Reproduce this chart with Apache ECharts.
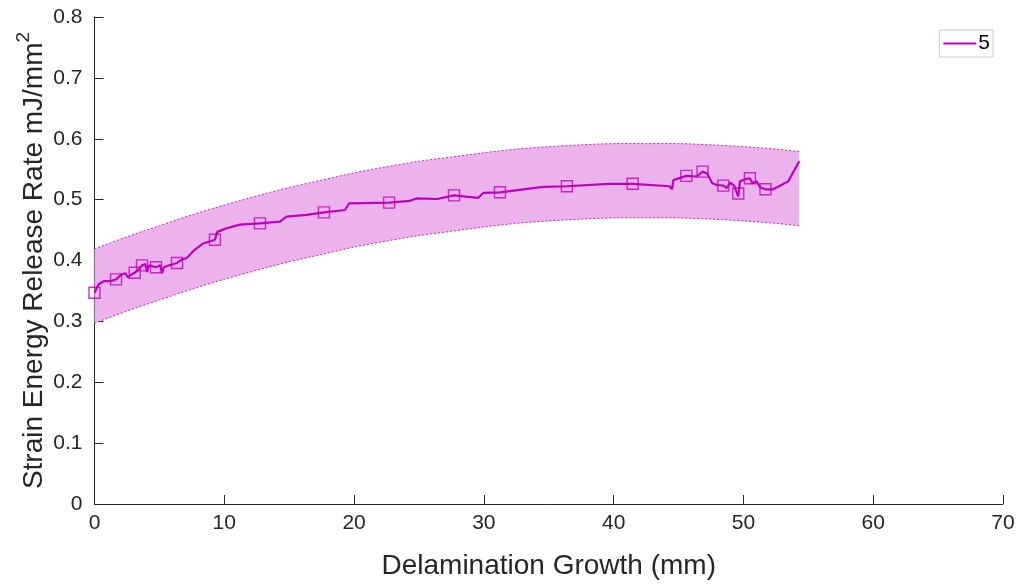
<!DOCTYPE html>
<html>
<head>
<meta charset="utf-8">
<script src="https://cdn.jsdelivr.net/npm/echarts@6/dist/echarts.min.js"></script>
<style>
  html, body { margin: 0; padding: 0; background: #fff; }
  #chart { width: 1028px; height: 585px; }
</style>
</head>
<body>
<div id="chart"></div>
<script>
  // measured curve (mm, mJ/mm^2)
  var growth = [0, 0.32, 0.71, 1.22, 1.66, 2.07, 2.38, 2.58, 2.84, 3.1, 3.4, 3.66, 3.92, 4.05, 4.2,
    4.74, 5.05, 5.2, 5.35, 5.6, 6.36, 6.75, 7.1, 7.74, 8.38, 9.0, 9.28, 9.46, 10.18, 11.2,
    12.75, 14.29, 14.8, 16.35, 17.68, 19.3, 19.63, 22.7, 24.3, 24.8, 26.4, 27.7, 29.57, 29.95,
    31.24, 34.58, 36.4, 39.6, 41.47, 44.3, 44.5, 44.6, 45.6, 46.4, 46.85, 47.2, 47.6, 47.97,
    48.45, 48.7, 49.0, 49.3, 49.6, 49.73, 50.2, 50.5, 50.7, 51.0, 51.3, 51.7, 52.3, 53.45, 54.3]
  var gValues = [0.347, 0.361, 0.366, 0.366, 0.369, 0.377, 0.379, 0.372, 0.377, 0.380, 0.385, 0.392, 0.394, 0.381, 0.392,
    0.389, 0.392, 0.379, 0.389, 0.391, 0.396, 0.402, 0.404, 0.418, 0.428, 0.432, 0.434, 0.447, 0.453, 0.459,
    0.461, 0.464, 0.472, 0.475, 0.479, 0.483, 0.494, 0.495, 0.498, 0.502, 0.501, 0.507, 0.503, 0.511,
    0.512, 0.521, 0.522, 0.526, 0.526, 0.522, 0.517, 0.532, 0.539, 0.538, 0.546, 0.543, 0.527, 0.524,
    0.523, 0.519, 0.528, 0.522, 0.505, 0.530, 0.534, 0.535, 0.527, 0.530, 0.520, 0.517, 0.517, 0.530, 0.563]

  // square markers
  var markX = [0, 1.66, 3.1, 3.66, 4.74, 6.36, 9.28, 12.75, 17.68, 22.7, 27.7, 31.24, 36.4, 41.47, 45.6, 46.85, 48.45, 49.6, 50.5, 51.7]
  var markY = [0.347, 0.369, 0.380, 0.392, 0.389, 0.396, 0.434, 0.461, 0.479, 0.495, 0.507, 0.512, 0.522, 0.526, 0.539, 0.546, 0.523, 0.510, 0.535, 0.517]

  // confidence band edges
  var bandX = [0, 2.5, 5, 7.5, 10, 12.5, 15, 17.5, 20, 22.5, 25, 27.5, 30, 32.5, 35, 37.5, 40, 42.5, 45, 47.5, 50, 52.5, 54.3]
  var bandUpper = [0.419, 0.439, 0.457, 0.475, 0.491, 0.506, 0.520, 0.532, 0.544, 0.554, 0.563, 0.570, 0.577, 0.583, 0.587, 0.590, 0.592, 0.592, 0.592, 0.590, 0.587, 0.583, 0.579]
  var bandLower = [0.297, 0.317, 0.335, 0.353, 0.369, 0.384, 0.398, 0.410, 0.422, 0.432, 0.441, 0.448, 0.455, 0.461, 0.465, 0.468, 0.470, 0.470, 0.470, 0.468, 0.465, 0.461, 0.457]

  var xTicks = [0, 10, 20, 30, 40, 50, 60, 70]
  var yTicks = [0, 0.1, 0.2, 0.3, 0.4, 0.5, 0.6, 0.7, 0.8]

  var magenta = '#bf00bf'
  var textColor = '#262626'
  var font = 'Liberation Sans'

  var chart = echarts.init(document.getElementById('chart'))

  var lineData = growth.map(function (x, i) { return [x, gValues[i]] })
  var markData = markX.map(function (x, i) { return [x, markY[i]] })
  var bandData = bandX.map(function (x, i) { return [x, bandLower[i], bandUpper[i]] })

  // band drawn as one polygon plus two dashed edges
  function renderBand(params, api) {
    if (params.dataIndex !== 0) return
    var up = [], lo = []
    for (var i = 0; i < bandData.length; i++) {
      up.push(api.coord([bandData[i][0], bandData[i][2]]))
      lo.push(api.coord([bandData[i][0], bandData[i][1]]))
    }
    var poly = up.concat(lo.slice().reverse())
    var edge = { stroke: magenta, lineWidth: 1, lineDash: [2, 2], fill: null, opacity: 0.85 }
    return {
      type: 'group',
      children: [
        { type: 'polygon', shape: { points: poly }, style: { fill: '#ebb2eb', stroke: null } },
        { type: 'polyline', shape: { points: up, smooth: 0.3 }, style: edge },
        { type: 'polyline', shape: { points: lo, smooth: 0.3 }, style: edge }
      ]
    }
  }

  chart.setOption({
    animation: false,
    grid: { left: 94.5, right: 25, top: 17, bottom: 80.5, containLabel: false },
    legend: {
      data: [{ name: '5', icon: 'rect' }],
      right: 35,
      top: 30,
      itemWidth: 33,
      itemHeight: 2,
      itemGap: 4,
      padding: [3, 3, 3, 4],
      borderColor: '#c8c8c8',
      borderWidth: 1,
      textStyle: { fontFamily: font, fontSize: 21, color: '#000', padding: [0, 0, 0, -3] }
    },
    xAxis: {
      type: 'value',
      min: 0,
      max: 70,
      interval: 10,
      name: 'Delamination Growth (mm)',
      nameLocation: 'middle',
      nameGap: 48,
      nameMoveOverlap: false,
      nameTextStyle: { fontFamily: font, fontSize: 28, color: textColor },
      axisLine: { show: true, lineStyle: { color: '#262626', width: 1 } },
      axisTick: { show: true, inside: true, length: 9, lineStyle: { color: '#262626' } },
      axisLabel: { fontFamily: font, fontSize: 21, color: textColor, margin: 9 },
      splitLine: { show: false }
    },
    yAxis: {
      type: 'value',
      min: 0,
      max: 0.8,
      interval: 0.1,
      name: '{t|Strain Energy Release Rate mJ/mm}{s|2}',
      nameLocation: 'middle',
      nameGap: 46,
      nameMoveOverlap: false,
      nameTextStyle: {
        fontFamily: font, fontSize: 28, color: textColor,
        rich: {
          t: { fontFamily: font, fontSize: 28, color: textColor, lineHeight: 34, verticalAlign: 'bottom' },
          s: { fontFamily: font, fontSize: 19, color: textColor, lineHeight: 34, verticalAlign: 'top' }
        }
      },
      axisLine: { show: true, lineStyle: { color: '#262626', width: 1 } },
      axisTick: { show: true, inside: true, length: 9, lineStyle: { color: '#262626' } },
      axisLabel: {
        fontFamily: font, fontSize: 21, color: textColor, margin: 12,
        formatter: function (v) { return v === 0 ? '0' : v.toFixed(1) }
      },
      splitLine: { show: false }
    },
    series: [
      {
        name: 'band',
        type: 'custom',
        data: bandData,
        encode: { x: 0, y: [1, 2] },
        renderItem: renderBand,
        silent: true,
        z: 1
      },
      {
        name: '5',
        type: 'line',
        data: lineData,
        symbol: 'none',
        color: magenta,
        lineStyle: { color: magenta, width: 2.2 },
        z: 3
      },
      {
        name: 'markers',
        type: 'scatter',
        data: markData,
        symbol: 'rect',
        symbolSize: 11,
        itemStyle: { color: 'rgba(0,0,0,0)', borderColor: magenta, borderWidth: 1.4 },
        z: 4
      }
    ]
  })
</script>
</body>
</html>
